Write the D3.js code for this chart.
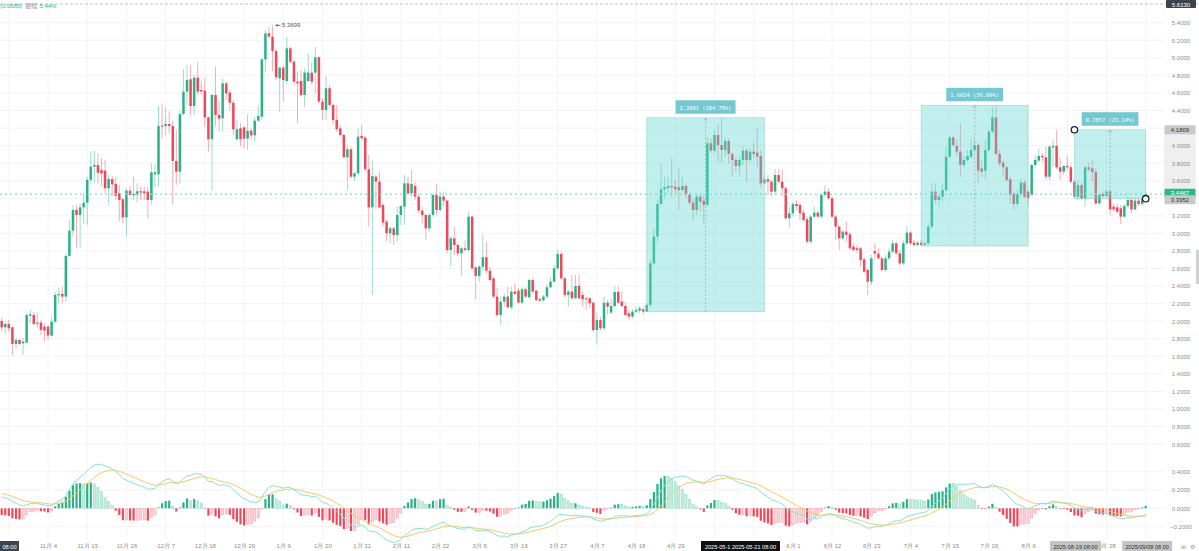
<!DOCTYPE html>
<html><head><meta charset="utf-8">
<script src="https://cdn.jsdelivr.net/npm/d3@7"></script>
<style>
html,body{margin:0;padding:0;background:#fff;overflow:hidden}
svg{display:block;font-family:"Liberation Sans","Noto Sans CJK SC",Arial,sans-serif}
</style></head><body>
<svg id="c" width="1199" height="551"></svg>
<script>
// ---------- data ----------
const startDate = Date.UTC(2024, 9, 22); // first daily candle
const openP = [2.003,1.931,1.969,1.931,1.741,1.786,1.748,1.756,2.063,2.071,1.969,1.984,1.938,1.938,1.836,1.995,2.295,2.31,2.28,2.743,
3.031,3.267,3.21,3.297,3.35,3.609,3.76,3.779,3.722,3.715,3.514,3.62,3.563,3.457,3.389,3.183,3.487,3.434,3.442,3.48,
3.48,3.476,3.381,3.673,3.673,4.227,4.223,4.246,4.223,3.825,3.703,4.36,4.615,4.755,4.451,4.774,4.634,4.626,4.322,4.072,
4.577,4.349,4.311,4.709,4.603,4.489,4.072,4.197,4.208,4.079,4.17,4.117,4.284,4.33,4.983,5.279,5.241,5.078,4.766,4.888,
4.736,5.108,4.956,4.728,4.736,4.577,4.736,4.831,4.831,5.006,4.501,4.406,4.653,4.463,4.292,4.197,4.121,3.867,3.958,3.646,
3.684,4.11,4.09,3.73,3.297,3.646,3.59,3.324,3.134,3.001,3.058,2.982,3.21,3.305,3.57,3.457,3.54,3.419,3.259,3.21,
3.058,3.21,3.438,3.267,3.419,3.373,2.811,2.944,2.868,2.773,2.83,2.811,3.191,2.614,2.515,2.621,2.728,2.576,2.488,2.28,
2.071,2.223,2.28,2.158,2.337,2.348,2.211,2.363,2.272,2.469,2.348,2.25,2.238,2.28,2.386,2.45,2.602,2.765,2.488,2.299,
2.337,2.261,2.401,2.299,2.261,2.261,2.211,1.90,2.014,1.919,2.211,2.098,2.173,2.333,2.223,2.173,2.09,2.052,2.109,2.12,
2.135,2.109,2.185,2.659,2.963,3.335,3.502,3.514,3.54,3.532,3.525,3.494,3.54,3.438,3.35,3.267,3.419,3.373,3.324,4.026,
3.943,4.121,4.007,3.95,4.053,3.905,3.836,3.768,3.836,3.943,3.836,3.931,3.92,3.882,3.57,3.616,3.589,3.476,3.665,3.589,
3.514,3.172,3.229,3.335,3.324,3.236,3.161,2.906,3.191,3.236,3.191,3.438,3.476,3.40,3.191,3.077,2.944,3.02,2.99,2.849,
2.83,2.83,2.705,2.583,2.45,2.80,2.77,2.716,2.583,2.716,2.792,2.887,2.773,2.659,2.887,3.009,2.895,2.868,2.895,2.87,
2.887,3.077,3.476,3.381,3.419,3.494,3.874,4.094,3.996,3.931,3.779,3.836,3.874,3.95,4.007,3.741,3.715,3.95,4.159,4.322,
3.905,3.806,3.753,3.616,3.449,3.335,3.449,3.578,3.476,3.438,3.779,3.829,3.882,3.867,3.646,3.98,3.996,3.753,3.703,3.768,
3.753,3.589,3.419,3.551,3.40,3.753,3.741,3.70,3.343,3.449,3.426,3.476,3.305,3.297,3.286,3.191,3.312,3.381,3.274,3.373,
3.335,3.39];
const highP = [2.041,1.995,2.014,1.938,1.805,1.794,1.805,2.09,2.128,2.109,2.098,2.014,1.976,1.957,2.052,2.337,2.375,2.394,2.773,3.153,
3.324,3.324,3.343,3.457,3.647,3.931,3.943,3.912,3.855,3.836,3.666,3.654,3.647,3.552,3.40,3.514,3.533,3.647,3.571,3.533,
3.533,3.533,3.798,3.79,4.451,4.482,4.444,4.387,4.284,4.178,4.398,4.869,4.918,4.918,4.804,4.956,4.728,4.766,4.33,4.588,
4.899,4.501,4.766,4.728,4.634,4.52,4.292,4.254,4.216,4.349,4.197,4.33,4.451,4.994,5.317,5.347,5.3699,5.108,4.899,4.907,
5.241,5.127,4.975,4.842,4.861,4.88,5.051,4.956,5.127,5.021,4.539,4.793,4.691,4.482,4.463,4.235,4.14,4.007,3.988,3.703,
4.197,4.235,4.11,3.893,3.829,3.665,3.703,3.343,3.153,3.077,3.077,3.305,3.324,3.665,3.646,3.73,3.59,3.457,3.305,3.229,
3.229,3.457,3.563,3.476,3.476,3.381,2.963,3.077,2.887,2.841,2.917,3.248,3.198,2.621,2.64,2.993,2.906,2.614,2.5,2.375,
2.28,2.318,2.394,2.394,2.431,2.375,2.386,2.386,2.488,2.5,2.356,2.272,2.299,2.424,2.5,2.64,2.818,2.792,2.507,2.356,
2.526,2.526,2.538,2.337,2.28,2.28,2.223,2.098,2.052,2.28,2.242,2.261,2.401,2.401,2.337,2.223,2.128,2.135,2.166,2.173,
2.166,2.204,2.70,3.058,3.381,3.798,3.646,3.646,3.855,3.608,3.741,3.646,3.57,3.457,3.40,3.457,3.438,3.438,4.102,4.083,
4.178,4.254,4.3173,4.102,4.083,3.931,3.874,3.893,3.988,3.969,3.969,4.026,4.197,3.95,3.646,3.665,3.608,3.73,3.73,3.722,
3.532,3.305,3.362,3.381,3.35,3.267,3.191,3.21,3.305,3.259,3.457,3.551,3.514,3.419,3.21,3.096,3.039,3.134,3.02,2.887,
2.868,2.849,2.735,2.602,2.754,2.887,2.83,2.735,2.754,2.83,2.925,2.906,2.811,2.925,3.085,3.02,2.925,2.917,2.925,2.906,
3.115,3.57,3.57,3.457,3.563,3.988,4.11,4.11,4.072,4.254,3.893,3.95,4.083,4.064,4.026,3.836,4.064,4.178,4.436,4.4592,
3.95,3.836,3.779,3.646,3.476,3.494,3.616,3.608,3.494,3.791,3.893,3.969,3.912,3.988,4.007,4.064,4.178,3.867,3.779,3.882,
3.779,3.608,3.608,3.57,3.768,3.798,3.836,3.741,3.457,3.476,3.50,3.494,3.335,3.343,3.324,3.335,3.419,3.40,3.411,3.40,
3.41,3.47];
const lowP = [1.881,1.862,1.881,1.61,1.691,1.729,1.62,1.748,1.976,1.957,1.919,1.843,1.767,1.786,1.824,1.976,2.204,2.204,2.223,2.728,
2.963,2.83,2.83,3.108,3.096,3.571,3.571,3.571,3.533,3.457,3.324,3.419,3.381,3.134,3.115,2.963,3.419,3.381,3.35,3.381,
3.381,3.172,3.324,3.514,3.533,4.083,4.121,4.14,3.335,3.552,3.563,4.349,4.463,4.349,4.349,4.577,4.588,4.216,3.931,3.487,
4.216,4.159,4.159,4.52,4.398,4.121,4.064,3.988,3.969,3.95,4.064,4.045,4.273,4.292,4.842,5.222,4.842,4.747,4.387,4.501,
4.709,4.937,4.691,4.254,4.558,4.436,4.728,4.691,4.596,4.482,4.292,4.292,4.436,4.235,4.159,4.102,3.855,3.487,3.627,3.601,
3.666,4.08,3.703,3.077,2.30,3.274,3.286,3.077,2.906,2.887,2.868,2.906,3.096,3.096,3.438,3.419,3.381,3.229,3.115,2.925,
3.02,3.191,3.21,3.248,3.305,2.773,2.629,2.754,2.735,2.515,2.792,2.792,2.583,2.249,2.45,2.583,2.545,2.45,2.261,2.052,
1.957,2.166,2.147,2.135,2.299,2.204,2.196,2.261,2.261,2.318,2.223,2.223,2.223,2.261,2.375,2.439,2.583,2.469,2.272,2.166,
2.242,2.249,2.249,2.166,2.128,2.147,1.881,1.73,1.90,1.90,2.082,2.082,2.158,2.196,2.158,2.059,2.021,2.033,2.09,2.09,
2.071,2.1082,2.166,2.64,2.887,3.324,3.40,3.457,3.419,3.457,3.267,3.476,3.40,3.324,3.153,3.21,3.248,3.115,3.312,3.92,
3.92,3.817,3.806,3.867,3.798,3.646,3.703,3.646,3.779,3.589,3.817,3.867,3.76,3.532,3.563,3.438,3.419,3.438,3.57,3.419,
3.153,3.058,3.191,3.267,3.153,3.134,2.887,2.887,3.172,3.183,3.172,3.419,3.381,3.172,2.925,2.811,2.925,2.906,2.811,2.792,
2.773,2.621,2.545,2.299,2.412,2.697,2.697,2.564,2.564,2.697,2.773,2.754,2.64,2.64,2.868,2.868,2.849,2.849,2.8568,2.86,
2.87,3.058,3.343,3.305,3.362,3.476,3.855,3.988,3.882,3.646,3.741,3.817,3.855,3.931,3.57,3.646,3.608,3.931,4.14,3.893,
3.76,3.646,3.589,3.343,3.267,3.305,3.419,3.40,3.324,3.419,3.76,3.817,3.817,3.616,3.608,3.76,3.73,3.608,3.665,3.715,
3.57,3.40,3.381,3.381,3.305,3.703,3.589,3.324,3.324,3.411,3.419,3.21,3.248,3.229,3.107,3.183,3.286,3.229,3.259,3.31,
3.32,3.375];
const closeP = [1.931,1.969,1.919,1.741,1.786,1.741,1.767,2.071,2.079,1.969,1.984,1.90,1.893,1.836,1.995,2.299,2.31,2.28,2.743,3.031,
3.267,3.21,3.297,3.35,3.609,3.76,3.779,3.692,3.684,3.514,3.62,3.559,3.427,3.381,3.183,3.487,3.438,3.45,3.48,3.465,
3.457,3.381,3.696,3.696,4.223,4.216,4.246,4.223,3.825,3.703,4.36,4.615,4.747,4.451,4.774,4.615,4.615,4.322,4.072,4.577,
4.349,4.307,4.709,4.596,4.489,4.186,4.186,4.072,4.079,4.17,4.117,4.284,4.337,4.983,5.279,5.241,5.078,4.778,4.888,4.747,
5.108,4.956,4.728,4.709,4.577,4.831,4.831,4.728,5.006,4.501,4.406,4.653,4.463,4.292,4.186,4.121,3.867,3.958,3.646,3.684,
4.102,4.083,3.73,3.297,3.654,3.59,3.297,3.123,3.001,3.058,2.982,3.21,3.312,3.57,3.457,3.563,3.419,3.259,3.21,3.058,
3.21,3.438,3.267,3.419,3.373,2.811,2.944,2.868,2.773,2.83,2.811,3.191,2.602,2.515,2.621,2.728,2.576,2.469,2.28,2.071,
2.223,2.28,2.158,2.337,2.31,2.211,2.363,2.28,2.469,2.337,2.242,2.234,2.28,2.386,2.45,2.602,2.765,2.488,2.299,2.337,
2.261,2.401,2.261,2.249,2.249,2.204,1.90,2.014,1.919,2.211,2.166,2.173,2.333,2.211,2.173,2.071,2.052,2.109,2.128,2.147,
2.109,2.185,2.659,2.963,3.335,3.502,3.525,3.54,3.525,3.502,3.494,3.54,3.438,3.35,3.267,3.419,3.362,3.324,4.026,3.943,
4.121,4.007,3.95,4.053,3.905,3.836,3.768,3.836,3.943,3.836,3.931,3.905,3.874,3.57,3.616,3.589,3.476,3.665,3.589,3.514,
3.172,3.229,3.335,3.312,3.229,3.153,2.906,3.191,3.236,3.191,3.438,3.476,3.40,3.191,3.077,2.944,3.02,2.982,2.83,2.811,
2.811,2.697,2.564,2.45,2.716,2.77,2.716,2.583,2.716,2.792,2.887,2.773,2.659,2.887,3.009,2.887,2.868,2.895,2.87,2.887,
3.077,3.476,3.381,3.419,3.494,3.874,4.094,4.007,3.931,3.779,3.836,3.882,3.95,4.007,3.715,3.703,3.95,4.159,4.322,3.905,
3.798,3.753,3.608,3.438,3.335,3.449,3.578,3.419,3.40,3.779,3.836,3.882,3.867,3.646,3.988,3.996,3.753,3.703,3.768,3.753,
3.589,3.419,3.551,3.40,3.753,3.73,3.70,3.343,3.438,3.426,3.476,3.274,3.274,3.248,3.191,3.312,3.381,3.274,3.373,3.335,
3.39,3.4467];

const priceTicks = [0.6,0.8,1.0,1.2,1.4,1.6,1.8,2.0,2.2,2.4,2.6,2.8,3.0,3.2,3.4,3.6,3.8,4.0,4.2,4.4,4.6,4.8,5.0,5.2,5.4];
const macdTicks = [0.4,0.2,0,-0.2];
const xTickDates = ["2024-10-24","2024-11-04","2024-11-15","2024-11-26","2024-12-07","2024-12-18","2024-12-29","2025-01-09","2025-01-20","2025-01-31","2025-02-11","2025-02-22","2025-03-05","2025-03-16","2025-03-27","2025-04-07","2025-04-18","2025-04-29","2025-05-10","2025-05-21","2025-06-01","2025-06-12","2025-06-23","2025-07-04","2025-07-15","2025-07-26","2025-08-06","2025-08-17","2025-08-28","2025-09-08"];
const xTickLabels = ["","11月 4","11月 15","11月 26","12月 7","12月 18","12月 29","1月 9","1月 20","1月 31","2月 11","2月 22","3月 5","3月 16","3月 27","4月 7","4月 18","4月 29","","","6月 1","6月 12","6月 23","7月 4","7月 15","7月 26","8月 6","","8月 28",""];

// measurement boxes (candle index start/end, low, high, label)
const measureStart = [181, 258, 301];
const measureEnd = [214, 288, 321];
const measureLow = [2.1082, 2.8568, 3.3952];
const measureHigh = [4.3173, 4.4592, 4.1809];
const measureText = ["2.2091 (104.79%)", "1.6024 (56.09%)", "0.7857 (23.14%)"];

const macdSeedEma12 = 2.0, macdSeedEma26 = 1.86, macdSeedDea = 0.17;

const lastPrice = 3.4467;
const crossPrice = 5.613;
const maxIndex = 76;

// ---------- drawing ----------
const UP = "#28b386", DN = "#f0485a";
const svg = d3.select("#c");
const N = closeP.length;
const dates = d3.range(N).map(i => new Date(startDate + i * 864e5));
const plotRight = 1165;
const x = d3.scaleUtc().domain([dates[0], dates[N - 1]]).range([1.7, 1145.7]);
const y = d3.scaleLinear().domain([0.6, 5.4]).range([444.1, 22.7]);
const ym = d3.scaleLinear().domain([-0.2, 0.4]).range([526.8, 471.3]);
const parse = s => new Date(s + "T00:00:00Z");
const tickDates = xTickDates.map(parse);
const fmt = d3.format(".4f");

// grid
const grid = svg.append("g");
grid.selectAll("line.h").data(priceTicks).join("line").attr("class","h")
  .attr("x1", 0).attr("x2", plotRight).attr("y1", d => y(d)).attr("y2", d => y(d))
  .attr("stroke", "#f3f3f3").attr("stroke-width", 1);
grid.selectAll("line.hm").data(macdTicks).join("line").attr("class","hm")
  .attr("x1", 0).attr("x2", plotRight).attr("y1", d => ym(d)).attr("y2", d => ym(d))
  .attr("stroke", "#f3f3f3").attr("stroke-width", 1);
grid.selectAll("line.v").data(tickDates).join("line").attr("class","v")
  .attr("x1", d => x(d)).attr("x2", d => x(d)).attr("y1", 0).attr("y2", 540)
  .attr("stroke", "#f4f4f4").attr("stroke-width", 1);

// top crosshair dashed line
svg.append("line").attr("x1", 0).attr("x2", 1199).attr("y1", y(crossPrice)).attr("y2", y(crossPrice))
  .attr("stroke", "#b5b5b5").attr("stroke-dasharray", "3,2").attr("stroke-width", 0.8);

// candles
const candles = d3.range(N).map(i => ({d: dates[i], o: openP[i], h: highP[i], l: lowP[i], c: closeP[i]}));
const cg = svg.append("g");
cg.selectAll("line").data(candles).join("line")
  .attr("x1", d => x(d.d)).attr("x2", d => x(d.d))
  .attr("y1", d => y(d.h)).attr("y2", d => y(d.l))
  .attr("stroke", d => d.c >= d.o ? UP : DN).attr("stroke-opacity", 0.45).attr("stroke-width", 1);
const bw = 2.5;
cg.selectAll("rect").data(candles).join("rect")
  .attr("x", d => x(d.d) - bw / 2).attr("width", bw)
  .attr("y", d => y(Math.max(d.o, d.c)))
  .attr("height", d => Math.max(1, Math.abs(y(d.o) - y(d.c))))
  .attr("fill", d => d.c >= d.o ? UP : DN);

// current price dotted line
svg.append("line").attr("x1", 0).attr("x2", plotRight).attr("y1", y(lastPrice)).attr("y2", y(lastPrice))
  .attr("stroke", "#86dcc6").attr("stroke-dasharray", "2,3").attr("stroke-width", 1.2);

// measurement boxes
const mg = svg.append("g");
measureStart.forEach((s, k) => {
  const x0 = x(dates[0]) + (x(dates[1]) - x(dates[0])) * s;
  const x1 = x(dates[0]) + (x(dates[1]) - x(dates[0])) * measureEnd[k];
  const yt = y(measureHigh[k]), yb = y(measureLow[k]);
  mg.append("rect").attr("x", x0).attr("y", yt).attr("width", x1 - x0).attr("height", yb - yt)
    .attr("fill", "rgb(100,215,210)").attr("fill-opacity", 0.4)
    .attr("stroke", "rgb(130,200,200)").attr("stroke-opacity", 0.6).attr("stroke-width", 0.8);
  const xm = (x0 + x1) / 2;
  mg.append("line").attr("x1", xm).attr("x2", xm).attr("y1", yt).attr("y2", yb)
    .attr("stroke", "#a0a0a0").attr("stroke-dasharray", "2,2").attr("stroke-width", 0.7);
  mg.append("path").attr("d", `M${xm-2},${yt+3}L${xm},${yt+1}L${xm+2},${yt+3}`)
    .attr("fill", "none").attr("stroke", "#999").attr("stroke-width", 0.7);
  const t = mg.append("text").attr("x", xm).attr("y", yt - 8).attr("text-anchor", "middle")
    .attr("font-family", "'DejaVu Sans Mono','Liberation Mono',monospace").attr("font-size", 5.4)
    .attr("fill", "#ffffff").text(measureText[k]);
  const tw = t.node().getComputedTextLength();
  mg.insert("rect", () => t.node()).attr("x", xm - tw / 2 - 4).attr("y", yt - 17.5)
    .attr("width", tw + 8).attr("height", 13.5).attr("fill", "#74c8d1");
  if (k === 2) {
    [[x0, yt], [x1, yb]].forEach(p => mg.append("circle").attr("cx", p[0]).attr("cy", p[1]).attr("r", 3.2)
      .attr("fill", "#fff").attr("stroke", "#222").attr("stroke-width", 1.3));
  }
});

// max label
const mx = x(dates[maxIndex]), my = y(highP[maxIndex]);
svg.append("line").attr("x1", mx + 3).attr("x2", mx + 8).attr("y1", my).attr("y2", my).attr("stroke", "#555").attr("stroke-width", 0.8);
svg.append("path").attr("d", `M${mx+3},${my}l2,-1.3v2.6z`).attr("fill", "#555");
svg.append("text").attr("x", mx + 9.5).attr("y", my + 2).attr("font-size", 6).attr("fill", "#555").text(fmt(highP[maxIndex]));

// MACD computation from closes
let e12 = macdSeedEma12, e26 = macdSeedEma26, dea = macdSeedDea;
const dif = [], deaA = [], hist = [];
closeP.forEach(c => {
  e12 = e12 + (c - e12) * 2 / 13;
  e26 = e26 + (c - e26) * 2 / 27;
  const df = e12 - e26;
  dea = dea + (df - dea) * 2 / 10;
  dif.push(df); deaA.push(dea); hist.push(2 * (df - dea));
});
const hg = svg.append("g");
const hw = 2.2;
hg.selectAll("rect").data(hist).join("rect")
  .attr("x", (d, i) => x(dates[i]) - hw / 2).attr("width", hw)
  .attr("y", d => ym(Math.max(0, d))).attr("height", d => Math.max(0.6, Math.abs(ym(d) - ym(0))))
  .attr("fill", (d, i) => {
    const p = i > 0 ? hist[i - 1] : d;
    if (d >= 0) return d >= p ? UP : "#c6ecdf";
    return d <= p ? DN : "#fcd3d8";
  })
  .attr("stroke", (d, i) => {
    const p = i > 0 ? hist[i - 1] : d;
    if (d >= 0) return d >= p ? "none" : "#8fd8bf";
    return d <= p ? "none" : "#f4a1ab";
  }).attr("stroke-width", 0.5);
const line = d3.line().x((d, i) => x(dates[i])).y(d => ym(d));
svg.append("path").datum(deaA).attr("d", line).attr("fill", "none").attr("stroke", "#f8c866").attr("stroke-width", 1);
svg.append("path").datum(dif).attr("d", line).attr("fill", "none").attr("stroke", "#86e2d2").attr("stroke-width", 1);

// right axis
svg.append("rect").attr("x", 1164).attr("y", y(measureHigh[2])).attr("width", 32)
  .attr("height", y(measureLow[2]) - y(measureHigh[2])).attr("fill", "#efefef");
const ay = svg.append("g").attr("transform", "translate(1181,0)")
  .call(d3.axisRight(y).tickValues(priceTicks).tickSize(0).tickPadding(0).tickFormat(fmt));
const am = svg.append("g").attr("transform", "translate(1181,0)")
  .call(d3.axisRight(ym).tickValues(macdTicks).tickSize(0).tickPadding(0).tickFormat(fmt));
[ay, am].forEach(a => {
  a.select(".domain").remove();
  a.selectAll("text").attr("text-anchor", "middle").attr("font-size", 6).attr("fill", "#8c8c8c")
    .attr("font-family", "'Liberation Sans',Arial,sans-serif");
});

function badge(cx, cy, w, h, bg, fg, txt, ty) {
  svg.append("rect").attr("x", cx - w / 2).attr("y", cy - h / 2).attr("width", w).attr("height", h).attr("fill", bg).attr("rx", 1);
  svg.append("text").attr("x", cx).attr("y", ty !== undefined ? ty : cy + 2).attr("text-anchor", "middle").attr("font-size", 6)
    .attr("fill", fg).text(txt);
}
badge(1180, y(lastPrice) - 1, 31, 9, "#2cb98a", "#fff", fmt(lastPrice));
badge(1180, y(measureLow[2]) + 1, 31, 9, "#c9c9c9", "#333", fmt(measureLow[2]));
badge(1180, y(measureHigh[2]), 31, 9, "#c9c9c9", "#333", fmt(measureHigh[2]));
badge(1181, 2, 30, 12, "#3d4450", "#fff", fmt(crossPrice), 6.5);

// bottom axis
const ax = svg.append("g").attr("transform", "translate(0,541)")
  .call(d3.axisBottom(x).tickValues(tickDates).tickSize(0).tickPadding(3).tickFormat((d, i) => xTickLabels[i]));
ax.select(".domain").remove();
ax.selectAll("text").attr("font-size", 6).attr("fill", "#8c8c8c");

function xbadge(cx, w, bg, fg, txt) {
  svg.append("rect").attr("x", cx - w / 2).attr("y", 541).attr("width", w).attr("height", 10).attr("fill", bg);
  svg.append("text").attr("x", cx).attr("y", 548.5).attr("text-anchor", "middle").attr("font-size", 5.6)
    .attr("fill", fg).text(txt);
}
xbadge(9.5, 19, "#3d4450", "#fff", "08:00");
xbadge(740.5, 79, "#111", "#fff", "2025-05-1  2025-05-21 08:00");
xbadge(1075.5, 51, "#c4c4c4", "#333", "2025-08-19 08:00");
xbadge(x(dates[N - 1]) + 1.5, 50, "#c4c4c4", "#333", "2025/09/08 08:00");
svg.append("text").attr("x", 1183).attr("y", 548.5).attr("text-anchor", "middle").attr("font-size", 6).attr("fill", "#999").text("⊞");
svg.append("text").attr("x", 1192).attr("y", 548.5).attr("text-anchor", "middle").attr("font-size", 6).attr("fill", "#999").text("⚙");
svg.append("rect").attr("x", 1196).attr("y", 250).attr("width", 3).attr("height", 34).attr("fill", "#d0d0d0");

// top-left legend
const lg = svg.append("text").attr("x", 0).attr("y", 8).attr("font-size", 6);
lg.append("tspan").attr("fill", "#28b386").text("(0.0685)");
lg.append("tspan").attr("fill", "#999").attr("dx", 3).text("振幅");
lg.append("tspan").attr("fill", "#28b386").attr("dx", 2).text("5.44%");
</script>
</body></html>
